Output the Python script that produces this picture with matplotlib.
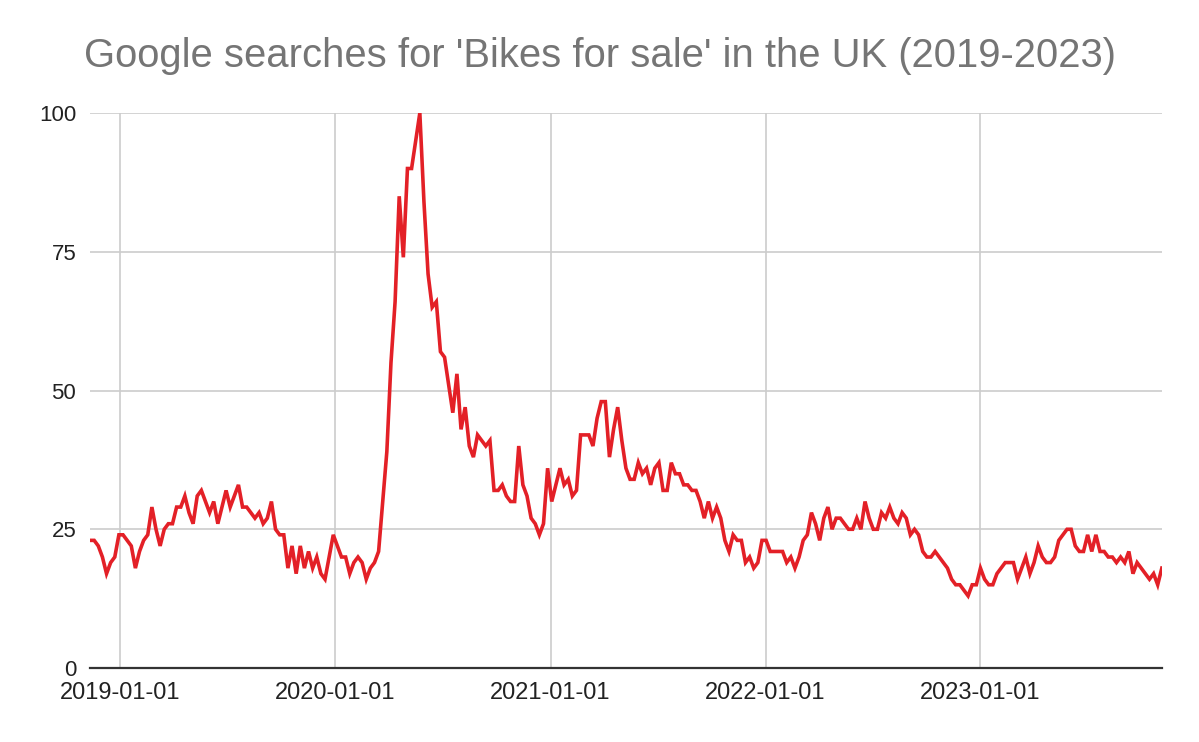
import matplotlib
matplotlib.use("Agg")
import matplotlib.pyplot as plt
import matplotlib.dates as mdates
import pandas as pd

# weekly Google Trends interest, first week starts 2018-11-11
start_week = "2018-11-11"

weeks_2018 = [23, 23, 22, 20, 17, 19, 20]
weeks_2019 = [24, 24, 23, 22, 18, 21, 23, 24, 29, 25, 22, 25, 26, 26, 29, 29,
              31, 28, 26, 31, 32, 30, 28, 30, 26, 29, 32, 29, 31, 33, 29, 29,
              28, 27, 28, 26, 27, 30, 25, 24, 24, 18, 22, 17, 22, 18, 21, 18,
              20, 17, 16, 20]
weeks_2020 = [24, 22, 20, 20, 17, 19, 20, 19, 16, 18, 19, 21, 30, 39, 55, 66,
              85, 74, 90, 90, 95, 100, 84, 71, 65, 66, 57, 56, 51, 46, 53, 43,
              47, 40, 38, 42, 41, 40, 41, 32, 32, 33, 31, 30, 30, 40, 33, 31,
              27, 26, 24, 26]
weeks_2021 = [36, 30, 33, 36, 33, 34, 31, 32, 42, 42, 42, 40, 45, 48, 48, 38,
              43, 47, 41, 36, 34, 34, 37, 35, 36, 33, 36, 37, 32, 32, 37, 35,
              35, 33, 33, 32, 32, 30, 27, 30, 27, 29, 27, 23, 21, 24, 23, 23,
              19, 20, 18, 19]
weeks_2022 = [23, 23, 21, 21, 21, 21, 19, 20, 18, 20, 23, 24, 28, 26, 23, 27,
              29, 25, 27, 27, 26, 25, 25, 27, 25, 30, 27, 25, 25, 28, 27, 29,
              27, 26, 28, 27, 24, 25, 24, 21, 20, 20, 21, 20, 19, 18, 16, 15,
              15, 14, 13, 15]
weeks_2023 = [15, 18, 16, 15, 15, 17, 18, 19, 19, 19, 16, 18, 20, 17, 19, 22,
              20, 19, 19, 20, 23, 24, 25, 25, 22, 21, 21, 24, 21, 24, 21, 21,
              20, 20, 19, 20, 19, 21, 17, 19, 18, 17, 16, 17, 15, 18]

interest = weeks_2018 + weeks_2019 + weeks_2020 + weeks_2021 + weeks_2022 + weeks_2023
weeks = pd.date_range(start_week, periods=len(interest), freq="W-SUN")

year_ticks = pd.to_datetime(["2019-01-01", "2020-01-01", "2021-01-01",
                             "2022-01-01", "2023-01-01"])
y_ticks = [0, 25, 50, 75, 100]

plt.rcParams["font.family"] = ["Liberation Sans", "DejaVu Sans"]

fig = plt.figure(figsize=(11.99, 7.42), dpi=100)
ax = fig.add_axes([0.0751, 0.0997, 0.8939, 0.7480])

ax.plot(weeks, interest, color="#e32027", linewidth=2.6, solid_joinstyle="miter",
        zorder=3)

ax.set_xlim(weeks[0], weeks[-1])
ax.set_ylim(0, 100)
ax.set_xticks(year_ticks)
ax.xaxis.set_major_formatter(mdates.DateFormatter("%Y-%m-%d"))
ax.set_yticks(y_ticks)

ax.grid(True, color="#cccccc", linewidth=1.2)
ax.set_axisbelow(True)
for side in ["top", "right", "left"]:
    ax.spines[side].set_visible(False)
ax.spines["bottom"].set_color("#333333")
ax.spines["bottom"].set_linewidth(1.6)
ax.spines["bottom"].set_zorder(4)

ax.tick_params(axis="both", length=0, colors="#222222")
ax.tick_params(axis="y", pad=10, labelsize=16)
ax.tick_params(axis="x", pad=10, labelsize=17)

fig.text(0.5, 0.924, "Google searches for 'Bikes for sale' in the UK (2019-2023)",
         ha="center", va="center", fontsize=28.8, color="#757575")

fig.savefig("out.png", dpi=100)
